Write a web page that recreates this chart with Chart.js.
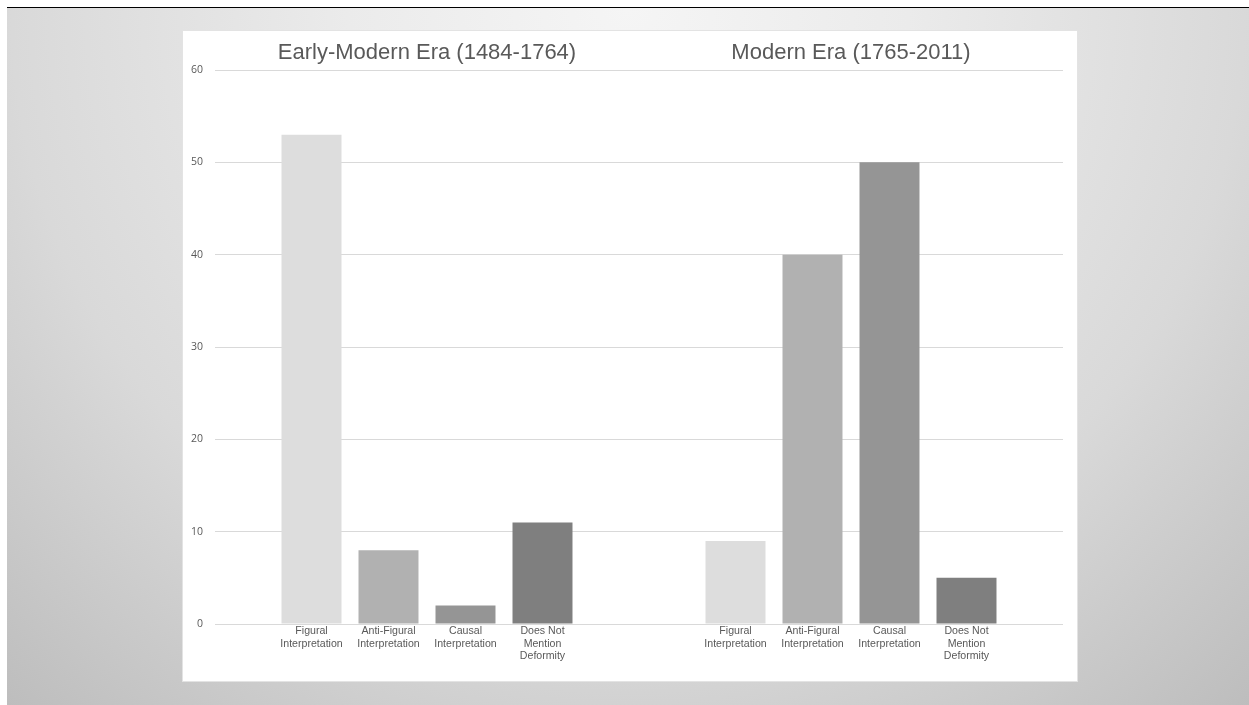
<!DOCTYPE html>
<html>
<head>
<meta charset="utf-8">
<title>Deformity interpretations by era</title>
<script src="https://cdn.jsdelivr.net/npm/chart.js@4/dist/chart.umd.min.js"></script>
<style>
    html, body {
        margin: 0;
        padding: 0;
        width: 1249px;
        height: 705px;
        background: #ffffff;
        overflow: hidden;
    }
    #slide {
        position: absolute;
        left: 7px;
        top: 7px;
        right: 0;
        bottom: 0;
        border-top: 1px solid #000000;
        background: radial-gradient(circle farthest-corner at 50% 0%, #f5f5f5 0%, #ebebeb 30%, #d9d9d9 66%, #bdbdbd 100%);
    }
    #panel {
        position: absolute;
        left: 183px;
        top: 31px;
        width: 894px;
        height: 650px;
        background: #ffffff;
        outline: 1px solid #e3e3e3;
    }
    #panel canvas {
        position: absolute;
        left: 0;
        top: 0;
    }
</style>
</head>
<body>
<div id="slide"></div>
<div id="panel">
    <canvas id="eraChart" width="894" height="650"></canvas>
</div>
<script>
// Data
const eras = ['Early-Modern Era (1484-1764)', 'Modern Era (1765-2011)'];
const interpretations = [
    ['Figural', 'Interpretation'],
    ['Anti-Figural', 'Interpretation'],
    ['Causal', 'Interpretation'],
    ['Does Not', 'Mention', 'Deformity']
];
const figural = [53, 9];
const antiFigural = [8, 40];
const causal = [2, 50];
const doesNotMention = [11, 5];
const yTicks = [0, 10, 20, 30, 40, 50, 60];

const barColors = ['#dddddd', '#b1b1b1', '#959595', '#7f7f7f'];
const seriesValues = [figural, antiFigural, causal, doesNotMention];
const textColor = '#595959';

// Draw each interpretation name under its own bar
const barLabels = {
    id: 'barLabels',
    afterDatasetsDraw(chart) {
        const ctx = chart.ctx;
        const bottom = chart.chartArea.bottom;
        ctx.save();
        ctx.font = '10.6px "Liberation Sans", Arial, sans-serif';
        ctx.fillStyle = textColor;
        ctx.textAlign = 'center';
        ctx.textBaseline = 'middle';
        chart.data.datasets.forEach((ds, i) => {
            const meta = chart.getDatasetMeta(i);
            meta.data.forEach(bar => {
                ds.lines.forEach((line, k) => {
                    ctx.fillText(line, bar.x, bottom + 7.5 + k * 12.3);
                });
            });
        });
        ctx.restore();
    }
};

const ctx = document.getElementById('eraChart').getContext('2d');
new Chart(ctx, {
    type: 'bar',
    data: {
        labels: eras,
        datasets: interpretations.map((lines, i) => ({
            label: lines.join(' '),
            lines: lines,
            data: seriesValues[i],
            backgroundColor: barColors[i],
            borderWidth: 0,
            categoryPercentage: 0.7264,
            barPercentage: 0.779
        }))
    },
    options: {
        responsive: false,
        animation: false,
        layout: {
            padding: { left: 0, right: 14, top: 0, bottom: 0 }
        },
        plugins: {
            legend: { display: false },
            tooltip: { enabled: false }
        },
        scales: {
            x: {
                position: 'bottom',
                grid: { display: false },
                border: { display: false },
                ticks: { display: false },
                afterFit: s => { s.height = 57; }
            },
            eraTitles: {
                type: 'category',
                labels: eras,
                position: 'top',
                offset: true,
                grid: { display: false, drawTicks: false },
                border: { display: false },
                ticks: {
                    color: textColor,
                    padding: 4,
                    maxRotation: 0,
                    autoSkip: false,
                    font: { family: '"Liberation Sans", Arial, sans-serif', size: 22 }
                },
                afterFit: s => { s.height = 39; }
            },
            y: {
                min: 0,
                max: 60,
                afterBuildTicks: s => { s.ticks = yTicks.map(v => ({ value: v })); },
                grid: { color: '#d9d9d9', drawTicks: false },
                border: { display: false },
                ticks: {
                    color: textColor,
                    padding: 12,
                    font: { family: '"Open Sans", sans-serif', size: 10.5 }
                },
                afterFit: s => { s.width = 32; }
            }
        }
    },
    plugins: [barLabels]
});
</script>
</body>
</html>
